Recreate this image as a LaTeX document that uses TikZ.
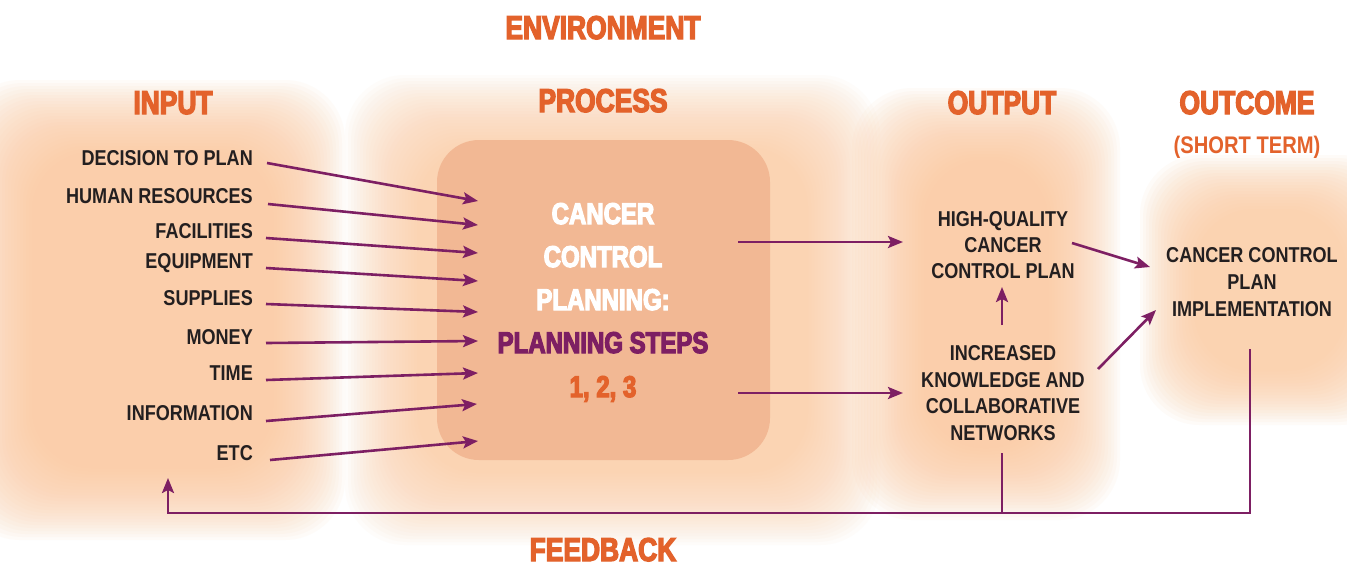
\documentclass[tikz,border=0pt]{standalone}
\usepackage{fontspec}
\setmainfont{Liberation Sans}[FakeStretch=0.82]
\newfontfamily\medfont{Liberation Sans Bold}[FakeStretch=0.84]
\newfontfamily\hvyfont{Liberation Sans Bold}[FakeStretch=0.8,FakeBold=4]
\usetikzlibrary{arrows.meta}
\definecolor{orng}{HTML}{E3622B}
\definecolor{purp}{HTML}{7D1F63}
\definecolor{dark}{HTML}{231F20}
\definecolor{boxc}{HTML}{F2B894}
\definecolor{glowc}{HTML}{FBCA9E}
\newcommand\glowbox[6]{\foreach \k in {0,...,#5}{\fill[glowc,fill opacity=#6,rounded corners=60pt] ({#1+3*\k},{#2+3*\k}) rectangle ({#3-3*\k},{#4-3*\k});}}
\begin{document}
\begin{tikzpicture}[x=1pt,y=-1pt,
  hdr/.style={text=orng,font=\hvyfont\fontsize{33}{40}\selectfont,inner sep=0pt},
  lab/.style={text=dark,font=\medfont\fontsize{21.5}{26}\selectfont,inner sep=0pt},
  mlab/.style={text=dark,font=\medfont\fontsize{21.5}{26.5}\selectfont,inner sep=0pt,align=center},
  ptx/.style={font=\hvyfont\fontsize{30}{36}\selectfont,inner sep=0pt},
  arr/.style={draw=purp,line width=2.6pt,-{Stealth[length=15pt,width=12pt,inset=3pt]}},
  pline/.style={draw=purp,line width=2.6pt}]
\useasboundingbox (0,0) rectangle (1347,566);
\fill[white] (0,0) rectangle (1347,566);
% glows
\glowbox{-40}{80}{345}{540}{24}{0.062}
\glowbox{345}{75}{880}{545}{24}{0.046}
\glowbox{852}{88}{1120}{520}{24}{0.062}
\glowbox{1140}{155}{1400}{425}{18}{0.072}
% process box
\node[draw=none,fill=boxc,rounded corners=42pt,minimum width=333pt,minimum height=320pt,inner sep=0pt] (proc) at (603.5,300) {};
% headers
\node[hdr,anchor=base] (env) at (603,39) {ENVIRONMENT};
\node[hdr,anchor=base] (hin) at (173,114) {INPUT};
\node[hdr,anchor=base] (hpr) at (603,112) {PROCESS};
\node[hdr,anchor=base] (hout) at (1002,114) {OUTPUT};
\node[hdr,anchor=base] (hoc) at (1247,114) {OUTCOME};
\node[text=orng,font=\medfont\fontsize{24}{28}\selectfont,inner sep=0pt,anchor=base] (hst) at (1247,153) {(SHORT TERM)};
\node[hdr,anchor=base] (fbk) at (603,561) {FEEDBACK};
% input labels
\node[lab,anchor=base east] (i1) at (253,165) {DECISION TO PLAN};
\node[lab,anchor=base east] (i2) at (253,203) {HUMAN RESOURCES};
\node[lab,anchor=base east] (i3) at (253,238) {FACILITIES};
\node[lab,anchor=base east] (i4) at (253,268) {EQUIPMENT};
\node[lab,anchor=base east] (i5) at (253,305) {SUPPLIES};
\node[lab,anchor=base east] (i6) at (253,344) {MONEY};
\node[lab,anchor=base east] (i7) at (253,380) {TIME};
\node[lab,anchor=base east] (i8) at (253,420) {INFORMATION};
\node[lab,anchor=base east] (i9) at (253,460) {ETC};
% process text
\node[ptx,text=white,anchor=base] (p1) at (603,224) {CANCER};
\node[ptx,text=white,anchor=base] (p2) at (603,267) {CONTROL};
\node[ptx,text=white,anchor=base] (p3) at (603,310) {PLANNING:};
\node[ptx,text=purp,anchor=base] (p4) at (603,353) {PLANNING STEPS};
\node[ptx,text=orng,anchor=base] (p5) at (603,397) {1, 2, 3};
% output / outcome
\node[mlab,font=\medfont\fontsize{21.5}{26}\selectfont] (hq) at (1003,245) {HIGH-QUALITY\\CANCER\\CONTROL PLAN};
\node[mlab] (inc) at (1003,393) {INCREASED\\KNOWLEDGE AND\\COLLABORATIVE\\NETWORKS};
\node[mlab,font=\medfont\fontsize{21.5}{27}\selectfont] (impl) at (1252,282) {CANCER CONTROL\\PLAN\\IMPLEMENTATION};
% input arrows
\coordinate (s1) at (267,163); \coordinate (e1) at (478,201);
\coordinate (s2) at (268,204); \coordinate (e2) at (478,225);
\coordinate (s3) at (266,238); \coordinate (e3) at (478,253);
\coordinate (s4) at (266,268); \coordinate (e4) at (478,281);
\coordinate (s5) at (266,304); \coordinate (e5) at (478,312);
\coordinate (s6) at (266,343); \coordinate (e6) at (478,341);
\coordinate (s7) at (266,380); \coordinate (e7) at (478,373);
\coordinate (s8) at (266,421); \coordinate (e8) at (477,404);
\coordinate (s9) at (270,460); \coordinate (e9) at (478,441);
\foreach \n in {1,...,9}{\draw[arr] (s\n) -- (e\n);}
% process to outputs
\coordinate (po1) at (738,242); \coordinate (hqw) at (903,242);
\coordinate (po2) at (738,393); \coordinate (incw) at (903,393);
\draw[arr] (po1) -- (hqw);
\draw[arr] (po2) -- (incw);
\coordinate (incn) at (1002,325); \coordinate (hqs) at (1002,287);
\draw[arr] (incn) -- (hqs);
\coordinate (hqe) at (1072,243); \coordinate (imw1) at (1150,267);
\draw[arr] (hqe) -- (imw1);
\coordinate (ince) at (1098,369); \coordinate (imw2) at (1156,310);
\draw[arr] (ince) -- (imw2);
% feedback
\coordinate (incs) at (1002,453); \coordinate (incb) at (1002,513);
\coordinate (ims) at (1250,349); \coordinate (imb) at (1250,513);
\coordinate (fbb) at (168,513); \coordinate (fbt) at (168,478);
\draw[pline] (incs) -- (incb);
\draw[arr] (ims) -- (imb) -- (fbb) -- (fbt);
\end{tikzpicture}
\end{document}
